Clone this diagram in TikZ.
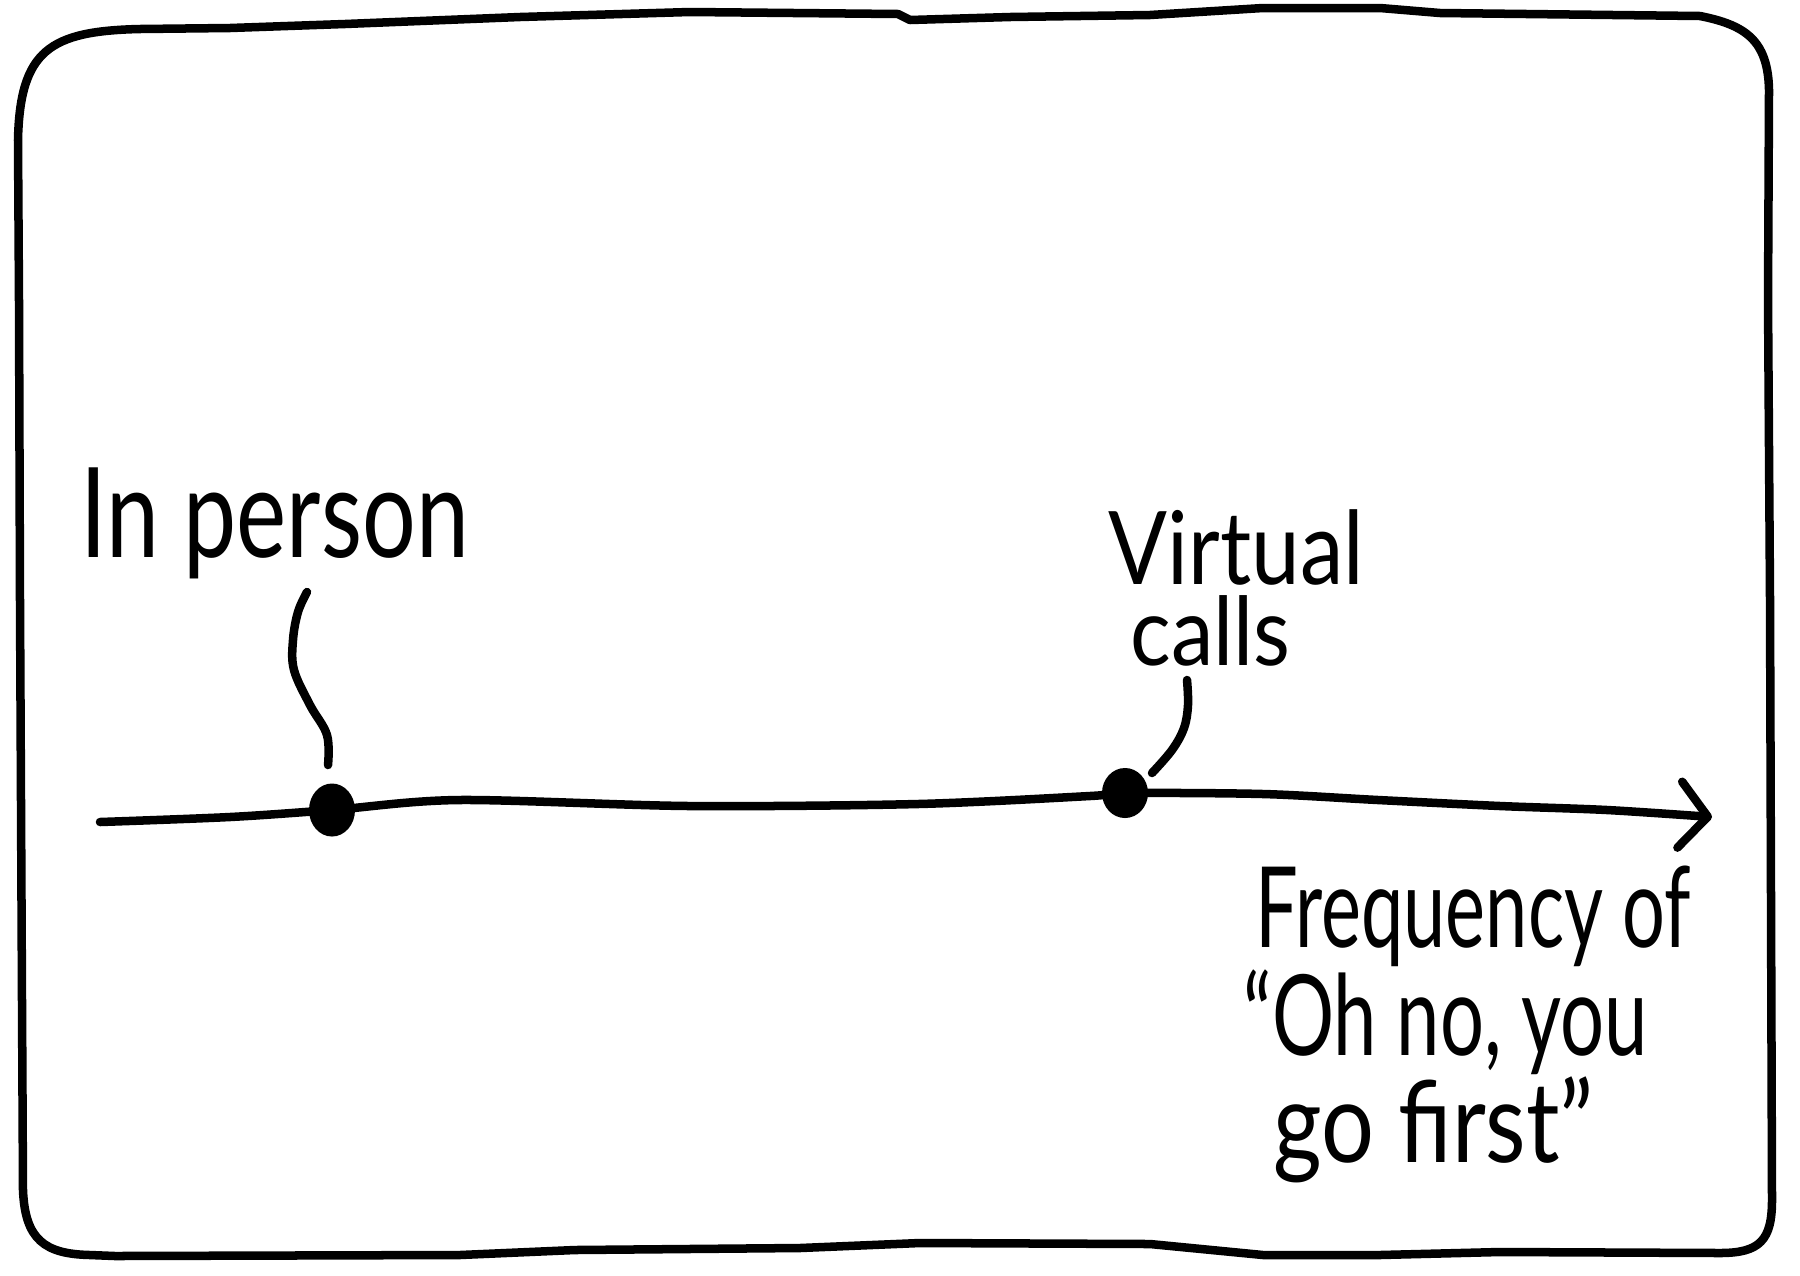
\documentclass[tikz,border=0pt]{standalone}
\usepackage{fontspec}
\usepackage{graphicx}
\usetikzlibrary{arrows.meta,shapes.geometric}
\newfontfamily\hand{Lato}
\newlength\hwlen
\newcommand\fitto[2]{\settowidth\hwlen{#2}\scalebox{\fpeval{(#1)/(\the\hwlen)}}[1]{#2}}
\begin{document}
\begin{tikzpicture}[x=0.01cm,y=-0.01cm,
  ink/.style={line width=0.085cm, line cap=round, line join=round},
  lbl/.style={font=\hand\fontsize{#1}{#1}\selectfont, inner sep=0pt, anchor=base west},
  dotnode/.style={ellipse, fill=black, draw=none, inner sep=0pt}]
\useasboundingbox (0,0) rectangle (1800,1275);
% frame
\draw[ink] (20,600) -- (19,300) -- (18,140) .. controls (20,50) and (50,31) .. (140,29)
  -- (230,28) -- (345,24) -- (520,17) -- (690,12) -- (898,14) -- (910,20) -- (1010,17)
  -- (1150,15) -- (1263,8) -- (1380,8) -- (1440,13) -- (1700,16)
  .. controls (1745,25) and (1768,40) .. (1769,90)
  -- (1768,300) -- (1770,600) -- (1771,900) -- (1772,1200)
  .. controls (1772,1240) and (1760,1253) .. (1720,1253)
  -- (1500,1252) -- (1380,1255) -- (1263,1255) -- (1150,1244) -- (920,1243)
  -- (800,1248) -- (575,1250) -- (460,1255) -- (115,1256) -- (90,1255)
  .. controls (45,1254) and (25,1240) .. (23,1190) -- (22,1000) -- cycle;
% axis
\coordinate (a0) at (100,822);
\coordinate (d1) at (332,810);
\coordinate (d2) at (1125,793);
\coordinate (tip) at (1712,817);
\draw[ink, -{Straight Barb[length=0.28cm,width=0.66cm,round]}]
  plot[smooth, tension=0.5] coordinates {(a0) (230,817) (d1) (459,800) (689,806) (918,804)
  (1090,796) (d2) (1263,794) (1378,800) (1500,806) (1607,810) (tip)};
\node[dotnode, minimum width=0.46cm, minimum height=0.53cm] (dot1) at (d1) {};
\node[dotnode, minimum width=0.46cm, minimum height=0.50cm] (dot2) at (d2) {};
% leaders
\coordinate (l1s) at (328,765);
\coordinate (l1e) at (307,592);
\draw[ink] plot[smooth, tension=0.6] coordinates {(l1s) (327,735) (310,705) (294,670) (293,640) (298,612) (l1e)};
\coordinate (l2s) at (1152,773);
\coordinate (l2e) at (1187,680);
\draw[ink] plot[smooth, tension=0.6] coordinates {(l2s) (1172,750) (1184,728) (1188,705) (l2e)};
% labels
\node[lbl=35.6pt] (inperson) at (80,557) {\fitto{3.88cm}{In person}};
\node[font=\hand\fontsize{28.9pt}{23pt}\selectfont, inner sep=0pt, align=left, anchor=north west]
  (virtual) at (1108,509) {\fitto{2.55cm}{Virtual}\\\hspace*{0.22cm}{\fontsize{27pt}{23pt}\selectfont\fitto{1.60cm}{calls}}};
\node[lbl=31.9pt] (freq1) at (1255,947) {\fitto{4.35cm}{Frequency of}};
\node[lbl=31.9pt] (freq2) at (1243,1055) {\fitto{4.04cm}{“Oh no, you}};
\node[lbl=31.9pt] (freq3) at (1273,1162) {\fitto{3.20cm}{go first”}};
\end{tikzpicture}
\end{document}
